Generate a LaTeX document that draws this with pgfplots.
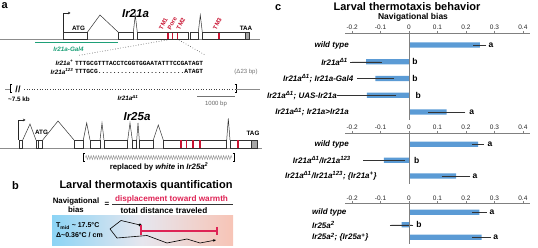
\documentclass[border=0pt]{standalone}
\usepackage{fontspec}
\setmainfont{Liberation Sans}
\setmonofont{Liberation Mono}
\usepackage{pgfplots}
\pgfplotsset{compat=1.18}
\usetikzlibrary{decorations.pathmorphing, arrows.meta}
\definecolor{barblue}{RGB}{91,155,213}
\definecolor{tmred}{RGB}{200,20,50}
\definecolor{magred}{RGB}{222,35,85}
\definecolor{galgreen}{RGB}{30,160,120}
\definecolor{gradL}{RGB}{140,212,245}
\definecolor{gradM}{RGB}{230,230,238}
\definecolor{gradR}{RGB}{247,196,182}
\newcommand{\fs}[1]{\fontsize{#1}{#1}\selectfont}
\tikzset{sig/.style={font=\bfseries\fs{8.5}, inner sep=0pt},
  zeroline/.style={draw=black!50, line width=0.6pt},
  gene/.style={draw=black!80, line width=0.5pt},
  exon/.style={draw=black!80, line width=0.5pt, fill=white},
  tm/.style={font=\bfseries\fs{6}, text=tmred, rotate=62, anchor=south west, inner sep=0pt}}
\pgfplotsset{
 navaxis/.style={scale only axis, width=185pt, anchor=north west,
   xmin=-0.225, xmax=0.425, clip=false,
   axis x line*=top, axis y line*=left,
   y axis line style={draw=none}, ytick style={draw=none},
   x axis line style={draw=black!50, line width=0.6pt},
   xtick={-0.2,-0.1,0,0.1,0.2,0.3,0.4},
   xticklabels={-0.2,-0.1,0,0.1,0.2,0.3,0.4},
   xtick style={draw=black!50, line width=0.5pt},
   major tick length=2pt, tick align=outside,
   xticklabel style={font=\fs{6.5}, text=black!85, inner sep=1pt},
   yticklabel style={font=\bfseries\itshape\fs{8}, inner sep=0pt},
 },
 navbar/.style={xbar, bar width=5.3pt, fill=barblue, draw=none,
   error bars/.cd, x dir=both, x explicit,
   error bar style={black!80, line width=0.45pt},
   error mark options={black!80, line width=0.45pt, mark size=1.6pt}},
}
\begin{document}
\begin{tikzpicture}[x=1pt,y=1pt]
\useasboundingbox (0,0) rectangle (538,248);
\begin{scope}[shift={(0,248)}, yscale=-1]
% ---------------- panel a ----------------
\node[font=\bfseries\fs{11}, anchor=north west, inner sep=0pt] at (1.5,2.5) {a};
\node[font=\bfseries\itshape\fs{11.5}] at (135.5,14) {Ir21a};
\draw[black!45, line width=0.6pt] (0,39.3) -- (260,39.3);
\draw[gene] (87.3,32.3) -- (100,15) -- (118.3,32.3);
\draw[gene] (133.3,32.3) -- (135.3,15) -- (137.3,32.3);
\draw[gene] (198.3,32.3) -- (200.3,15) -- (202.3,32.3);
\foreach \a/\b in {63.3/87.3, 118.3/133.3, 137.3/188.3, 190.7/198.3, 202.3/245}
  \draw[exon] (\a,32.3) rectangle (\b,39.3);
\draw[gene, fill=black!35] (245,32.3) rectangle (249.3,39.3);
\foreach \x in {168,172.5,177.5,219.3} \fill[tmred] (\x-0.9,32.6) rectangle (\x+0.9,39);
\draw[black!85, line width=0.5pt, -{Stealth[length=2.5pt,width=2.5pt]}] (63.3,32.3) -- (63.3,13) -- (70.5,13);
\node[font=\bfseries\fs{6.3}] at (78.5,28) {ATG};
\node[font=\bfseries\fs{6.3}] at (246,28) {TAA};
\node[tm] at (162.5,30.5) {TM1};
\node[tm] at (171,30.5) {Pore};
\node[tm] at (180,30.5) {TM2};
\node[tm] at (216.5,30.5) {TM3};
\draw[galgreen, line width=1.3pt] (35,42.7) -- (118.3,42.7);
\node[font=\bfseries\itshape\fs{6.3}, text=galgreen] at (68.5,49) {Ir21a-Gal4};
\draw[black!75, dotted, line width=0.6pt] (167,40) -- (78,55.5);
\draw[black!75, dotted, line width=0.6pt] (179,40) -- (206,55.5);
\node[font=\bfseries\itshape\fs{6.3}, anchor=east, inner sep=0pt] at (73.5,63) {Ir21a\textsuperscript{+}};
\node[font=\ttfamily\bfseries\fs{6.27}, anchor=west, inner sep=0pt] at (75,63) {TTTGCGTTTACCTCGGTGGAATATTTCCGATAGT};
\node[font=\bfseries\itshape\fs{6.3}, anchor=east, inner sep=0pt] at (73.5,71.5) {Ir21a\textsuperscript{123}};
\node[font=\ttfamily\bfseries\fs{6.27}, anchor=west, inner sep=0pt] at (75,71.5) {TTTGCG.......................ATAGT};
\node[font=\fs{6}, text=black!55] at (246,72) {(Δ23 bp)};
% deletion
\draw[black!45, line width=0.6pt] (5,89) -- (10,89);
\draw[black, line width=1pt] (12,85) -- (10.5,85) -- (10.5,93) -- (12,93);
\node[font=\bfseries\fs{9}] at (18,89) {//};
\draw[black!75, dotted, line width=0.6pt] (24,89) -- (235,89);
\draw[black, line width=1pt] (234.5,85) -- (236,85) -- (236,93) -- (234.5,93);
\draw[black!45, line width=0.6pt] (236,89) -- (260,89);
\node[font=\bfseries\fs{6.3}] at (19,99) {\textasciitilde7.5 kb};
\node[font=\bfseries\itshape\fs{6.3}] at (128,98) {Ir21a\textsuperscript{Δ1}};
\draw[black!55, line width=0.8pt] (197,96) -- (235,96);
\node[font=\fs{6}, text=black!60] at (216,103.5) {1000 bp};
% Ir25a
\node[font=\bfseries\itshape\fs{11.5}] at (137,117) {Ir25a};
\draw[black!45, line width=0.6pt] (0,148.3) -- (262,148.3);
\draw[gene] (22.7,140) -- (30,124) -- (36,140);
\draw[gene] (42.7,140) -- (58,121) -- (74,140);
\draw[gene] (83.3,140) -- (86.7,123) -- (90,140);
\draw[gene] (100,140) -- (102,123) -- (104,140);
\draw[gene] (127.7,140) -- (130,123) -- (132.3,140);
\draw[gene] (136.7,140) -- (138,123) -- (139.3,140);
\draw[gene] (153.3,140) -- (158.3,125) -- (163.3,140);
\draw[gene] (226.7,140) -- (228.3,118.5) -- (230,140);
\foreach \a/\b in {19/22.7, 36/42.7, 74/83.3, 90/100, 104/127.7, 132.3/136.7, 139.3/153.3, 163.3/226.7, 230/251.7}
  \draw[exon] (\a,140) rectangle (\b,148.3);
\draw[gene] (38.5,140) -- (38.5,148.3);
\draw[gene, fill=black!35] (251.7,140) rectangle (257.3,148.3);
\foreach \x in {181,186.5,193,200,238.3} \fill[tmred] (\x-0.9,140.3) rectangle (\x+0.9,148);
\draw[black!85, line width=0.5pt, -{Stealth[length=2.5pt,width=2.5pt]}] (18.3,140) -- (18.3,120) -- (25.5,120);
\node[font=\bfseries\fs{6.3}] at (41.5,132) {ATG};
\node[font=\bfseries\fs{6.3}] at (253,133) {TAG};
\draw[black, line width=0.9pt] (84.5,153.3) -- (83,153.3) -- (83,161.7) -- (84.5,161.7);
\draw[black!45, line width=0.4pt, decorate, decoration={zigzag, segment length=2.5pt, amplitude=2pt}] (85.5,157.5) -- (232,157.5);
\draw[black, line width=0.9pt] (232.5,153.3) -- (234,153.3) -- (234,161.7) -- (232.5,161.7);
\node[font=\bfseries\fs{7.8}] at (159,167) {replaced by \textit{white} in \textit{Ir25a\textsuperscript{2}}};
% ---------------- panel b ----------------
\node[font=\bfseries\fs{11}, anchor=north west, inner sep=0pt] at (12,181) {b};
\node[font=\bfseries\fs{11}] at (146,186) {Larval thermotaxis quantification};
\node[font=\bfseries\fontsize{7.8}{9}\selectfont, align=center] at (76,205.5) {Navigational\\bias};
\node[font=\bfseries\fs{8}] at (107,204) {=};
\node[font=\bfseries\fs{8.2}, text=magred] at (171.5,199) {displacement toward warmth};
\draw[black!80, line width=0.6pt] (112,204.5) -- (233,204.5);
\node[font=\bfseries\fs{8.2}] at (164,211) {total distance traveled};
\shade[left color=gradL, right color=gradR, middle color=gradM] (52,216) rectangle (233,246);
\node[font=\bfseries\fs{7}, anchor=west, inner sep=0pt] at (56,226) {T\textsubscript{mid} \textasciitilde{} 17.5°C};
\node[font=\bfseries\fs{7}, anchor=west, inner sep=0pt] at (56,235) {Δ\textasciitilde0.36°C / cm};
\draw[black, line width=0.6pt, -{Stealth[length=3pt,width=2.6pt]}] (140,225) -- (121,220.5) -- (110,229) -- (117,238) -- (147,235.5) -- (167,243) -- (187,239) -- (200,243) -- (216,240);
\fill (140,225) circle (1.7);
\draw[magred, line width=1.1pt] (141,225.5) -- (141,235);
\draw[magred, line width=1.1pt] (141,231) -- (217,231);
\draw[magred, line width=1.1pt] (217,227) -- (217,235);
% panel c label & titles
\node[font=\bfseries\fs{11}, anchor=north west, inner sep=0pt] at (275,4) {c};
\node[font=\bfseries\fs{11}] at (407,6.5) {Larval thermotaxis behavior};
\node[font=\bfseries\fs{8.5}] at (413,17.5) {Navigational bias};
\end{scope}
% ---------------- panel c axes ----------------
\begin{axis}[navaxis, at={(345pt,215pt)}, height=87.4pt, ymin=-4.5, ymax=0.72,
  ytick={-4,-3,-2,-1,0},
  yticklabels={Ir21a\textsuperscript{Δ1}; Ir21a>Ir21a, Ir21a\textsuperscript{Δ1}; UAS-Ir21a\kern12pt, Ir21a\textsuperscript{Δ1}; Ir21a-Gal4\kern-4.5pt, Ir21a\textsuperscript{Δ1}\kern1pt, wild type},
  yticklabel style={anchor=east, xshift=6pt}]
\addplot[navbar] coordinates {(0.249,0) +- (0.017,0) (-0.151,-1) +- (0.05,0) (-0.118,-2) +- (0.06,0) (-0.148,-3) +- (0.098,0) (0.132,-4) +- (0.06,0)};
\draw[zeroline] (axis cs:0,0.72) -- (axis cs:0,-4.5);
\node[sig] at (axis cs:0.288,0) {a};
\node[sig] at (axis cs:0.021,-1) {b};
\node[sig] at (axis cs:0.021,-2) {b};
\node[sig] at (axis cs:0.032,-3) {b};
\node[sig] at (axis cs:0.220,-4) {a};
\end{axis}
\begin{axis}[navaxis, at={(345pt,115pt)}, height=51pt, ymin=-2.5, ymax=0.71,
  ytick={-2,-1,0},
  yticklabels={Ir21a\textsuperscript{Δ1}/Ir21a\textsuperscript{123}; \{Ir21a\textsuperscript{+}\}\kern-28pt, Ir21a\textsuperscript{Δ1}/Ir21a\textsuperscript{123}\kern-2pt, wild type},
  yticklabel style={anchor=east, xshift=6pt}]
\addplot[navbar] coordinates {(0.243,0) +- (0.015,0) (-0.088,-1) +- (0.068,0) (0.165,-2) +- (0.045,0)};
\draw[zeroline] (axis cs:0,0.71) -- (axis cs:0,-2.5);
\node[sig] at (axis cs:0.284,0) {a};
\node[sig] at (axis cs:0.027,-1) {b};
\node[sig] at (axis cs:0.232,-2) {a};
\end{axis}
\begin{axis}[navaxis, at={(345pt,44.7pt)}, height=40.25pt, ymin=-2.5, ymax=0.72,
  ytick={-2,-1,0},
  yticklabels={Ir25a\textsuperscript{2}; \{Ir25a\textsuperscript{+}\}, Ir25a\textsuperscript{2}, wild type},
  yticklabel style={anchor=west, xshift=-31pt}]
\addplot[navbar] coordinates {(0.247,0) +- (0.02,0) (-0.026,-1) +- (0.036,0) (0.255,-2) +- (0.028,0)};
\draw[zeroline] (axis cs:0,0.72) -- (axis cs:0,-2.5);
\node[sig] at (axis cs:0.291,0) {a};
\node[sig] at (axis cs:0.035,-1) {b};
\node[sig] at (axis cs:0.305,-2) {a};
\end{axis}
\end{tikzpicture}
\end{document}
